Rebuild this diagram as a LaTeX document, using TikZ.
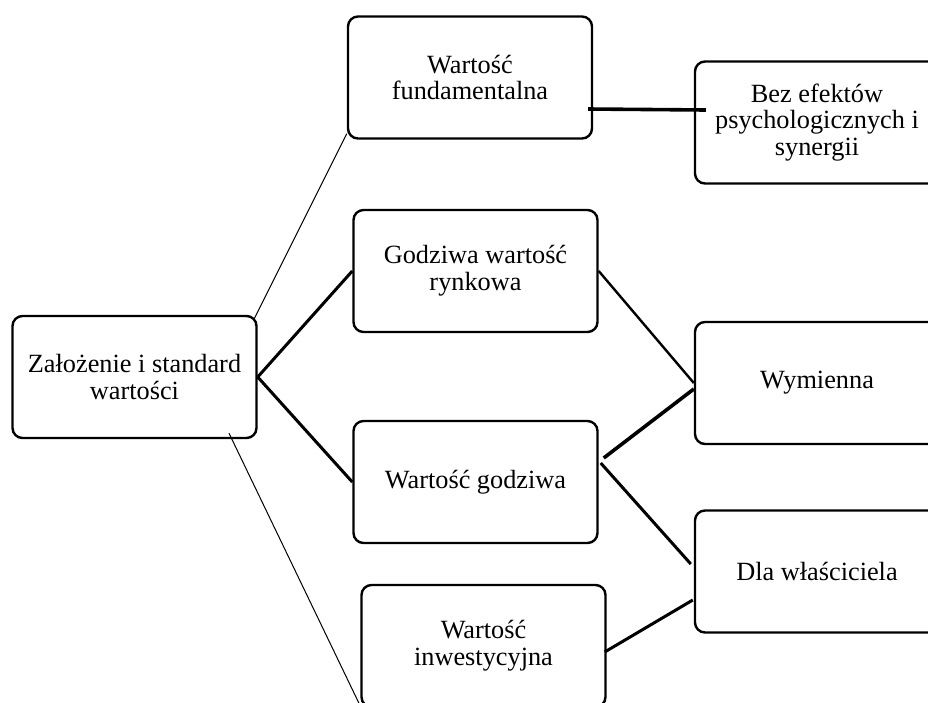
\documentclass[tikz,border=0pt]{standalone}
\usepackage{fontspec}
\setmainfont{Liberation Serif}
\usetikzlibrary{calc}
\begin{document}
\begin{tikzpicture}[x=1pt,y=-1pt,
  box/.style={draw, line width=2.4pt, rounded corners=10pt,
    minimum width=244pt, minimum height=122pt, inner sep=0pt,
    align=center, font=\fontsize{26.3}{26.8}\selectfont},
  thinlink/.style={line width=1pt},
  boldlink/.style={line width=3pt},
  heavylink/.style={line width=3.6pt}]
\useasboundingbox (0,0) rectangle (928,702);
\clip (0,0) rectangle (928,702);
\fill[white] (0,0) rectangle (928,702);

% boxes
\node[box] (main) at (134.5,377) {Założenie i standard\\wartości};
\node[box] (fund) at (470,77.5) {Wartość\\fundamentalna};
\node[box] (ryn)  at (475.5,271) {Godziwa wartość\\rynkowa};
\node[box] (godz) at (475.5,482) {Wartość godziwa};
\node[box] (inw)  at (483.5,646) {Wartość\\inwestycyjna};
\node[box] (bez)  at (817,122.5) {Bez efektów\\psychologicznych i\\synergii};
\node[box] (wym)  at (817,383) {Wymienna};
\node[box] (dla)  at (817,571.5) {Dla właściciela};

% connectors from the root
\draw[thinlink] ($(main.north east)+(-4,5)$) -- ($(fund.south west)+(0,-6)$);
\draw[boldlink] (main.east) -- (ryn.west);
\draw[boldlink] (main.east) -- (godz.west);
\draw[thinlink] ($(main.south)+(94.5,-6)$) -- ($(inw.west)+(0,60)$);

% connectors to the right column
\draw[heavylink] ($(fund.east)+(-5,31.5)$) -- ($(bez.west)+(12,-12.5)$);
\draw[line width=2.4pt] (ryn.east) -- (wym.west);
\draw[heavylink] ($(godz.east)+(5,-24)$) -- ($(wym.west)+(0,6)$);
\draw[boldlink] ($(godz.east)+(2,-19)$) -- ($(dla.west)+(-3,-7.5)$);
\draw[boldlink] ($(inw.east)+(-2,6)$) -- ($(dla.west)+(-1,28.5)$);
\end{tikzpicture}
\end{document}
